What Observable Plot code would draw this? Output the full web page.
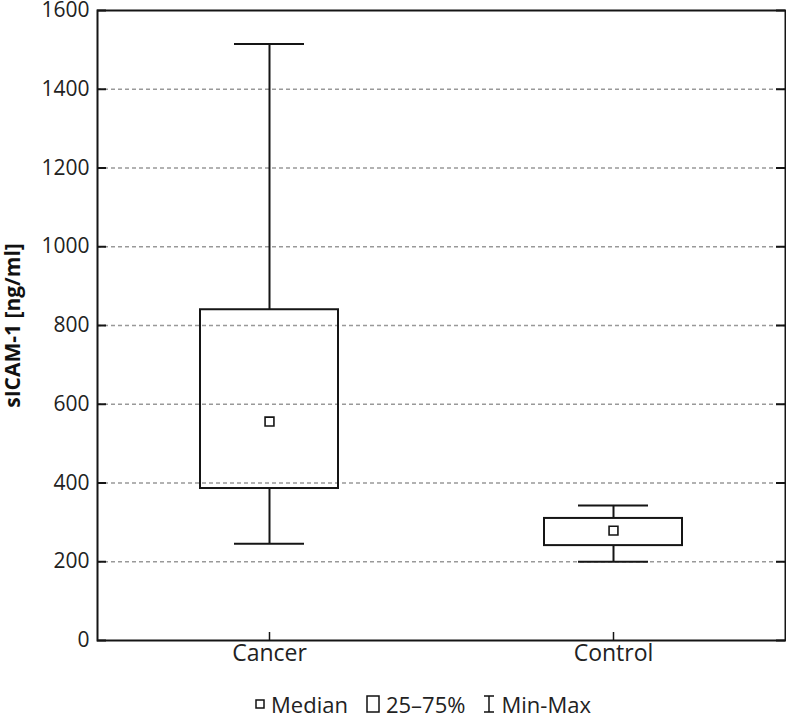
<!DOCTYPE html>
<html>
<head>
<meta charset="utf-8">
<script src="https://cdn.jsdelivr.net/npm/d3@7"></script>
<script src="https://cdn.jsdelivr.net/npm/@observablehq/plot@0.6"></script>
<style>
  body { margin: 0; background: #fff; font-family: "Open Sans", sans-serif; }
  #legend { width: 786px; box-sizing: border-box; padding-left: 60px; display: flex; justify-content: center; align-items: center; font-size: 22px; color: #222; height: 36px; margin-top: 6px; }
  #legend span { display: inline-flex; align-items: center; margin: 0 9px; }
  #legend svg { margin-right: 6px; }
</style>
</head>
<body>
<div id="chart"></div>
<div id="legend">
  <span><svg width="10" height="10"><rect x="1" y="1" width="8" height="8" fill="none" stroke="#111" stroke-width="1.5"/></svg>Median</span>
  <span><svg width="14" height="18"><rect x="1" y="1" width="12" height="16" fill="none" stroke="#111" stroke-width="1.5"/></svg>25–75%</span>
  <span><svg width="12" height="18"><path d="M1,1H11M6,1V17M1,17H11" fill="none" stroke="#111" stroke-width="1.5"/></svg>Min-Max</span>
</div>
<script>
const categories = ["Cancer", "Control"];
const minVals = [246, 200];
const q1Vals = [386, 241];
const medianVals = [556, 279];
const q3Vals = [840, 310];
const maxVals = [1515, 343];
const yTicks = [0, 200, 400, 600, 800, 1000, 1200, 1400, 1600];
const gridTicks = [200, 400, 600, 800, 1000, 1200, 1400];

const data = categories.map((c, i) => ({
  cat: c, min: minVals[i], q1: q1Vals[i], median: medianVals[i], q3: q3Vals[i], max: maxVals[i]
}));

const W = 786, H = 680, mL = 97, mR = 1, mT = 10, mB = 40;
const innerW = W - mL - mR, innerH = H - mT - mB;
const ink = "#151515";

const chart = Plot.plot({
  width: W, height: H,
  marginLeft: mL, marginRight: mR, marginTop: mT, marginBottom: mB,
  style: { fontFamily: "Open Sans, sans-serif", color: "#222", background: "#fff", overflow: "visible" },
  x: { type: "band", domain: categories, padding: 0, label: null },
  y: { domain: [0, 1600], label: null },
  marks: [
    Plot.ruleY(gridTicks, { stroke: "#999", strokeWidth: 1.5, strokeDasharray: "4,3" }),
    Plot.tickY(yTicks, { y: d => d, stroke: ink, strokeWidth: 2, insetRight: innerW - 9 }),
    Plot.tickY(yTicks, { y: d => d, stroke: ink, strokeWidth: 2, insetLeft: innerW - 9 }),
    Plot.tickX(categories, { x: d => d, stroke: ink, strokeWidth: 1.5, insetTop: innerH - 8 }),
    Plot.ruleX(data, { x: "cat", y1: "q3", y2: "max", stroke: ink, strokeWidth: 2 }),
    Plot.ruleX(data, { x: "cat", y1: "min", y2: "q1", stroke: ink, strokeWidth: 2 }),
    Plot.tickY(data, { x: "cat", y: "max", stroke: ink, strokeWidth: 2, insetLeft: 137, insetRight: 137 }),
    Plot.tickY(data, { x: "cat", y: "min", stroke: ink, strokeWidth: 2, insetLeft: 137, insetRight: 137 }),
    Plot.barY(data, { x: "cat", y1: "q1", y2: "q3", fill: "none", stroke: ink, strokeWidth: 2, insetLeft: 103, insetRight: 103 }),
    Plot.dot(data, { x: "cat", y: "median", symbol: "square", r: 5, fill: "#fff", stroke: ink, strokeWidth: 1.6 }),
    Plot.axisY(yTicks, { tickSize: 0, tickPadding: 8, fontSize: 21, tickFormat: d => String(d), label: null }),
    Plot.axisX({ tickSize: 0, tickPadding: 4, fontSize: 23, label: null }),
    Plot.text(["sICAM-1 [ng/ml]"], { frameAnchor: "left", textAnchor: "middle", rotate: -90, dx: -84, fontWeight: "bold", fontSize: 21, fill: "#111" }),
    Plot.frame({ stroke: ink, strokeWidth: 2 })
  ]
});
document.getElementById("chart").appendChild(chart);
</script>
</body>
</html>
